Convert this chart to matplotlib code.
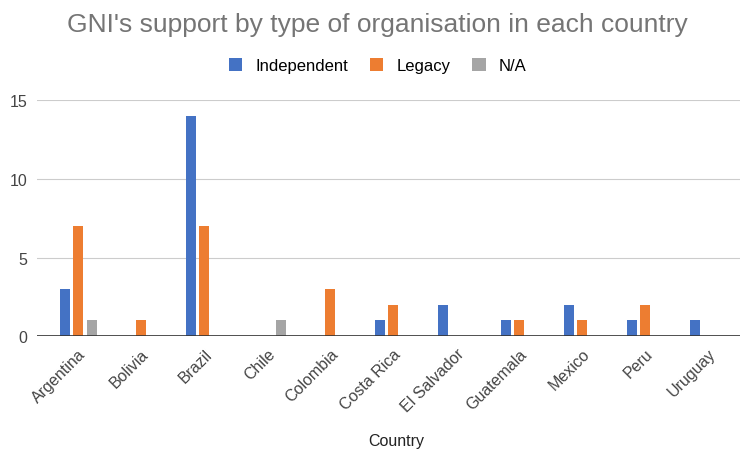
import numpy as np
import matplotlib.pyplot as plt

plt.rcParams['font.family'] = ['Liberation Sans', 'DejaVu Sans']

# data
countries = ['Argentina', 'Bolivia', 'Brazil', 'Chile', 'Colombia', 'Costa Rica',
             'El Salvador', 'Guatemala', 'Mexico', 'Peru', 'Uruguay']
independent = [3, 0, 14, 0, 0, 1, 2, 1, 2, 1, 1]
legacy = [7, 1, 7, 0, 3, 2, 0, 1, 1, 2, 0]
na = [1, 0, 0, 1, 0, 0, 0, 0, 0, 0, 0]

series = [('Independent', independent, '#4472c4'),
          ('Legacy', legacy, '#ed7d31'),
          ('N/A', na, '#a5a5a5')]

fig = plt.figure(figsize=(7.42, 4.52), dpi=100)
ax = fig.add_axes([0.05, 0.254, 0.947, 0.522])

x = np.arange(len(countries))
step = 0.214
width = 0.16
for i, (name, vals, col) in enumerate(series):
    ax.bar(x + (i - 1) * step, vals, width, color=col, label=name, zorder=3)

ax.set_xlim(-0.65, len(countries) - 0.5)
ax.set_ylim(0, 15)
ax.set_yticks([0, 5, 10, 15])
ax.yaxis.grid(True, color='#cccccc', linewidth=0.8, zorder=0)
ax.axhline(0, color='#333333', linewidth=1.2, zorder=4)
for s in ax.spines.values():
    s.set_visible(False)
ax.tick_params(axis='both', length=0, labelsize=11.5, labelcolor='#444444')
ax.tick_params(axis='y', pad=7)
ax.tick_params(axis='x', pad=7)
ax.set_xticks(x)
ax.set_xticklabels(countries, rotation=45, ha='right', rotation_mode='anchor')

fig.text(0.534, 1 - 442 / 452, 'Country', ha='center', va='center',
         fontsize=11.5, color='#222222')
fig.text(0.509, 0.945, "GNI's support by type of organisation in each country",
         ha='center', va='center', fontsize=19, color='#757575')
fig.legend(loc='center', bbox_to_anchor=(0.509, 0.852), ncol=3, frameon=False,
           fontsize=12, handlelength=0.8, handleheight=0.8, columnspacing=1.3,
           handletextpad=0.8)

fig.savefig('out.png', dpi=100)
